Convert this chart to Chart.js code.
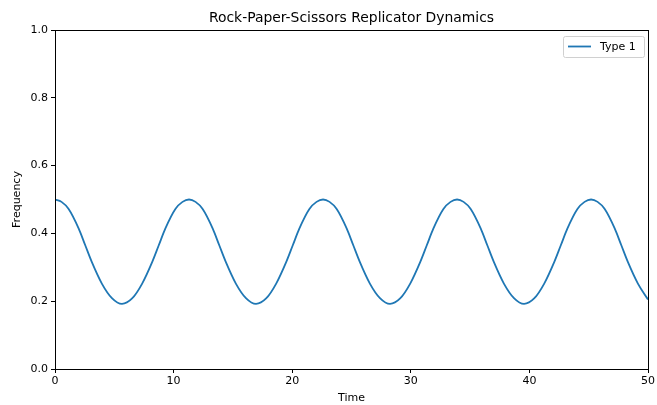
<!DOCTYPE html>
<html>
<head>
<meta charset="utf-8">
<script src="https://cdn.jsdelivr.net/npm/chart.js@4.4.0/dist/chart.umd.min.js"></script>
<style>
  html, body { margin: 0; padding: 0; background: #fff; }
  #wrap { width: 657px; height: 405px; }
</style>
</head>
<body>
<div id="wrap"><canvas id="myChart" width="657" height="405"></canvas></div>
<script>
// valores
const tempo = [
    0, 0.55, 1.15, 2.0, 2.55, 3.1, 3.95, 4.8, 5.65, 6.5, 7.35, 8.2, 8.75, 9.3, 10.15, 10.75, 11.3,
    11.85, 12.45, 13.3, 13.85, 14.4, 15.25, 16.1, 16.95, 17.8, 18.65, 19.5, 20.05, 20.6, 21.45, 22.05, 22.6,
    23.15, 23.75, 24.6, 25.15, 25.7, 26.55, 27.4, 28.25, 29.1, 29.95, 30.8, 31.35, 31.9, 32.75, 33.35, 33.9,
    34.45, 35.05, 35.9, 36.45, 37.0, 37.85, 38.7, 39.55, 40.4, 41.25, 42.1, 42.65, 43.2, 44.05, 44.65, 45.2,
    45.75, 46.35, 47.2, 47.75, 48.3, 49.15, 50
];
const tipo1 = [
    0.500, 0.493, 0.472, 0.414, 0.365, 0.316, 0.252, 0.209, 0.192, 0.208, 0.252, 0.316, 0.365, 0.414, 0.472, 0.493, 0.500,
    0.493, 0.472, 0.414, 0.365, 0.316, 0.252, 0.209, 0.192, 0.208, 0.252, 0.316, 0.365, 0.414, 0.472, 0.493, 0.500,
    0.493, 0.472, 0.414, 0.365, 0.316, 0.252, 0.209, 0.192, 0.208, 0.252, 0.316, 0.365, 0.414, 0.472, 0.493, 0.500,
    0.493, 0.472, 0.414, 0.365, 0.316, 0.252, 0.209, 0.192, 0.208, 0.252, 0.316, 0.365, 0.414, 0.472, 0.493, 0.500,
    0.493, 0.472, 0.414, 0.365, 0.316, 0.252, 0.205
];
const xTicks = [0, 10, 20, 30, 40, 50];
const yTicks = [0.0, 0.2, 0.4, 0.6, 0.8, 1.0];

const titulo = 'Rock-Paper-Scissors Replicator Dynamics';
const fonte = "'DejaVu Sans', sans-serif";
const azul = '#1f77b4';

// título centrado na área do gráfico, moldura e legenda estilo matplotlib
const molduraPlugin = {
    id: 'moldura',
    afterDraw(chart) {
        const ctx = chart.ctx;
        const a = chart.chartArea;
        ctx.save();
        ctx.strokeStyle = '#000';
        ctx.lineWidth = 1;
        ctx.strokeRect(Math.round(a.left) + 0.5, Math.round(a.top) + 0.5,
            Math.round(a.right - a.left), Math.round(a.bottom - a.top));

        // título
        ctx.fillStyle = '#000';
        ctx.font = '13.9px ' + fonte;
        ctx.textAlign = 'center';
        ctx.textBaseline = 'middle';
        ctx.fillText(titulo, (a.left + a.right) / 2, 18);

        // legenda
        const bx = 563, by = 36, bw = 81, bh = 21;
        ctx.strokeStyle = '#d0d0d0';
        ctx.fillStyle = 'rgba(255,255,255,0.8)';
        ctx.beginPath();
        ctx.roundRect(bx + 0.5, by + 0.5, bw, bh, 2);
        ctx.fill();
        ctx.stroke();
        ctx.strokeStyle = azul;
        ctx.lineWidth = 1.8;
        ctx.beginPath();
        ctx.moveTo(568, 46.5);
        ctx.lineTo(591, 46.5);
        ctx.stroke();
        ctx.fillStyle = '#000';
        ctx.font = '11px ' + fonte;
        ctx.textAlign = 'left';
        ctx.fillText(chart.data.datasets[0].label, 600, 47);
        ctx.restore();
    }
};

const config = {
    type: 'line',
    data: {
        datasets: [{
            label: 'Type 1',
            data: tempo.map((t, i) => ({ x: t, y: tipo1[i] })),
            borderColor: azul,
            backgroundColor: azul,
            borderWidth: 1.8,
            pointRadius: 0,
            cubicInterpolationMode: 'monotone',
            fill: false
        }]
    },
    options: {
        responsive: false,
        animation: false,
        layout: { padding: { left: 0, right: 8, top: 30, bottom: 0 } },
        plugins: {
            legend: { display: false },
            tooltip: { enabled: false },
            title: { display: false }
        },
        scales: {
            x: {
                type: 'linear',
                min: 0,
                max: 50,
                afterBuildTicks: scale => { scale.ticks = xTicks.map(v => ({ value: v })); },
                afterFit: scale => { scale.height = 36; },
                grid: { drawOnChartArea: false, drawTicks: true, tickLength: 4, color: '#000' },
                border: { display: true, color: '#000' },
                ticks: { color: '#000', padding: 2, maxRotation: 0, font: { family: fonte, size: 11 } },
                title: { display: true, text: 'Time', color: '#000', padding: { top: 0, bottom: 0 }, font: { family: fonte, size: 11 } }
            },
            y: {
                type: 'linear',
                min: 0,
                max: 1,
                afterBuildTicks: scale => { scale.ticks = yTicks.map(v => ({ value: v })); },
                afterFit: scale => { scale.width = 55; },
                grid: { drawOnChartArea: false, drawTicks: true, tickLength: 4, color: '#000' },
                border: { display: true, color: '#000' },
                ticks: { color: '#000', padding: 3, callback: v => v.toFixed(1), font: { family: fonte, size: 11 } },
                title: { display: true, text: 'Frequency', color: '#000', padding: { top: 11, bottom: 0 }, font: { family: fonte, size: 11 } }
            }
        }
    },
    plugins: [molduraPlugin]
};

const ctx = document.getElementById('myChart');
const myChart = new Chart(ctx, config);
</script>
</body>
</html>
